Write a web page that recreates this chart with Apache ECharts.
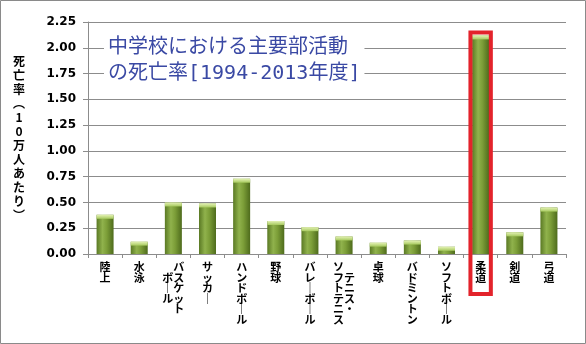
<!DOCTYPE html>
<html>
<head>
<meta charset="utf-8">
<script src="https://cdn.jsdelivr.net/npm/echarts@6/dist/echarts.min.js"></script>
<style>
html,body{margin:0;padding:0;background:#fff;}
#c{width:586px;height:344px;}
</style>
</head>
<body>
<div id="c"></div>
<script>
// ---- data ----
const categories = ['陸上','水泳','バスケットボール','サッカー','ハンドボール','野球','バレーボール','テニス・ソフトテニス','卓球','バドミントン','ソフトボール','柔道','剣道','弓道'];
const values = [0.38,0.12,0.50,0.49,0.73,0.32,0.26,0.17,0.11,0.13,0.07,2.12,0.21,0.45];
const labelColumns = {
  'バスケットボール': ['バスケット','ボール'],
  'テニス・ソフトテニス': ['テニス・','ソフトテニス']
};
const highlighted = '柔道';
const titleLines = ['中学校における主要部活動','の死亡率[1994-2013年度]'];
const yAxisName = ['死','亡','率','︵','1','0','万','人','あ','た','り','︶'];
const yTicks = {min:0, max:2.25, interval:0.25};

function vchars(s){ return Array.from(s).map(c => c === 'ー' ? '｜' : c); }
function verticalLabel(label){
  const cols = labelColumns[label];
  if(!cols) return vchars(label).join('\n');
  const r = vchars(cols[0]), l = vchars(cols[1]);
  const n = Math.max(r.length, l.length);
  const offR = Math.floor((n - r.length)/2), offL = Math.floor((n - l.length)/2);
  const lines = [];
  for(let i=0;i<n;i++){
    lines.push((l[i-offL] || '　') + (r[i-offR] || '　'));
  }
  return lines.join('\n');
}

const chart = echarts.init(document.getElementById('c'), null, {renderer:'canvas'});
const gridColor = '#8c8c8c';
const barGrad = new echarts.graphic.LinearGradient(0,0,1,0,[
  {offset:0,color:'#5a7924'},
  {offset:0.35,color:'#90b24c'},
  {offset:0.6,color:'#7c9e38'},
  {offset:1,color:'#4e6b1c'}
]);
const capGrad = new echarts.graphic.LinearGradient(0,0,0,1,[
  {offset:0,color:'#e4f2b4'},
  {offset:1,color:'#a6c95e'}
]);

chart.setOption({
  animation:false,
  backgroundColor:'#fff',
  title:{
    text: titleLines.join('\n'),
    left:104, top:33,
    backgroundColor:'#fff',
    padding:[2,4],
    textStyle:{fontFamily:"'DejaVu Sans Mono', 'Noto Sans CJK JP'", fontSize:20, fontWeight:'normal', color:'#3a49a4', lineHeight:26}
  },
  grid:{left:88, right:20, top:22, bottom:90},
  xAxis:{
    type:'category',
    data:categories,
    axisLine:{lineStyle:{color:gridColor}},
    axisTick:{show:true, length:4, lineStyle:{color:gridColor}},
    axisLabel:{
      interval:0, margin:8, color:'#000',
      fontFamily:'Noto Sans CJK JP', fontWeight:'bold', fontSize:11, lineHeight:10.5,
      verticalAlign:'top',
      formatter: verticalLabel
    }
  },
  yAxis:{
    type:'value',
    min:yTicks.min, max:yTicks.max, interval:yTicks.interval,
    name: yAxisName.join('\n'),
    nameLocation:'middle', nameRotate:0, nameGap:69,
    nameTextStyle:{fontFamily:'Noto Sans CJK JP', fontWeight:'bold', fontSize:12, lineHeight:14, color:'#000', align:'center', verticalAlign:'middle'},
    axisLine:{show:true, lineStyle:{color:gridColor}},
    axisTick:{show:true, length:5, lineStyle:{color:gridColor}},
    splitLine:{lineStyle:{color:gridColor, width:1}},
    axisLabel:{
      margin:12, color:'#000', fontFamily:'DejaVu Sans', fontWeight:'bold', fontSize:12,
      formatter: v => v.toFixed(2)
    }
  },
  series:[
    {type:'bar', data:values, barWidth:17, itemStyle:{color:barGrad}, z:2},
    {type:'pictorialBar', data:values, symbol:'rect', symbolSize:[17,4], symbolPosition:'end',
     symbolOffset:[0,0], itemStyle:{color:capGrad}, z:3, silent:true}
  ]
});

function drawOverlay(){
  const idx = categories.indexOf(highlighted);
  const top = chart.convertToPixel({gridIndex:0}, [idx, values[idx]]);
  const base = chart.convertToPixel({gridIndex:0}, [idx, 0]);
  chart.setOption({
    graphic:[
      {type:'rect', shape:{x:0.5, y:0.5, width:585, height:343}, style:{fill:null, stroke:'#8a8a8a', lineWidth:1}, z:100, silent:true},
      {type:'rect', shape:{x:top[0]-10.2, y:top[1]-3, width:20.4, height:(base[1]+40)-(top[1]-3)},
       style:{fill:null, stroke:'#e3232b', lineWidth:4}, z:100, silent:true}
    ]
  });
}
drawOverlay();
</script>
</body>
</html>
